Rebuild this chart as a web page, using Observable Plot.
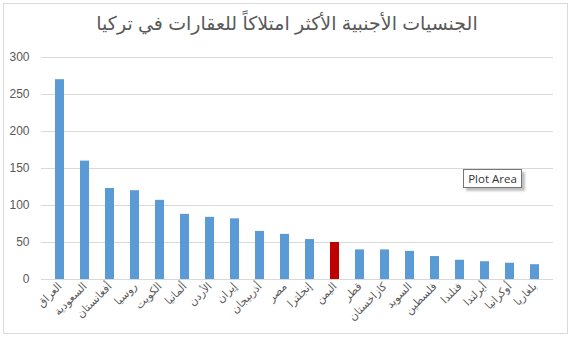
<!DOCTYPE html>
<html>
<head>
<meta charset="utf-8">
<script src="https://cdn.jsdelivr.net/npm/d3@7"></script>
<script src="https://cdn.jsdelivr.net/npm/@observablehq/plot@0.6"></script>
<style>
  html, body { margin: 0; padding: 0; background: #fff; }
  #wrap { position: relative; width: 572px; height: 339px; overflow: hidden; background: #fff; }
  #frame { position: absolute; left: 3px; top: 3px; width: 563px; height: 329px; border: 1px solid #d9d9d9; box-sizing: content-box; pointer-events: none; }
  #title { height: 45px; line-height: 47px; text-align: center; font-family: "Liberation Sans", "DejaVu Sans", sans-serif; font-size: 19px; color: #595959; direction: rtl; padding-left: 2px; }
  #tip { position: absolute; left: 463px; top: 169px; width: 57px; height: 17px; border: 1px solid #767676; background: #fff; box-shadow: 3px 3px 2px rgba(0,0,0,0.25); font-family: "Open Sans", "Liberation Sans", sans-serif; font-size: 11.5px; line-height: 17px; text-align: center; color: #333; }
</style>
</head>
<body>
<div id="wrap">
  <div id="title">الجنسيات الأجنبية الأكثر امتلاكاً للعقارات في تركيا</div>
  <div id="chart"></div>
  <div id="frame"></div>
  <div id="tip">Plot Area</div>
</div>
<script>
const countries = ["العراق", "السعودية", "أفغانستان", "روسيا", "الكويت", "ألمانيا", "الأردن", "إيران", "أذربيجان", "مصر", "إنجلترا", "اليمن", "قطر", "كازاخستان", "السويد", "فلسطين", "فنلندا", "أيرلندا", "أوكرانيا", "بلغاريا"];
const values = [270, 160, 123, 120, 107, 88, 84, 82, 65, 61, 54, 50, 40, 40, 38, 31, 26, 24, 22, 20];
const highlighted = ["اليمن"];
const yTicks = [0, 50, 100, 150, 200, 250, 300];

const data = countries.map((c, i) => ({country: c, value: values[i]}));

const chart = Plot.plot({
  width: 572,
  height: 294,
  marginLeft: 41,
  marginRight: 19,
  marginTop: 12,
  marginBottom: 60,
  style: {fontFamily: "'Liberation Sans', 'DejaVu Sans', sans-serif", fontSize: "12px", color: "#595959", background: "transparent"},
  x: {domain: countries, paddingInner: 0.66, paddingOuter: 0.33, label: null},
  y: {domain: [0, 300], label: null},
  marks: [
    Plot.gridY(yTicks, {stroke: "#d9d9d9", strokeOpacity: 1}),
    Plot.barY(data, {x: "country", y: "value", fill: d => highlighted.includes(d.country) ? "#c00000" : "#5b9bd5"}),
    Plot.ruleY([0], {stroke: "#d9d9d9"}),
    Plot.axisY(yTicks, {tickSize: 0, tickPadding: 12, fill: "#595959", fontSize: 12}),
    Plot.axisX({tickSize: 0, tickRotate: -45, tickPadding: 5, fill: "#595959", fontSize: 11})
  ]
});
document.getElementById("chart").appendChild(chart);
</script>
</body>
</html>
